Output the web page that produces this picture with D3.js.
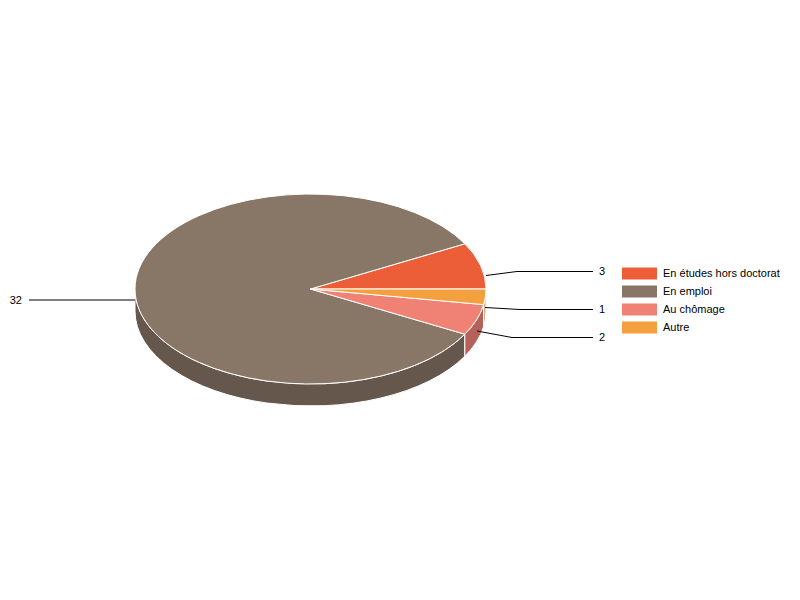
<!DOCTYPE html>
<html>
<head>
<meta charset="utf-8">
<script src="https://cdn.jsdelivr.net/npm/d3@7"></script>
<style>
html, body { margin: 0; padding: 0; background: #fff; }
svg { display: block; }
</style>
</head>
<body>
<div class="main"></div>
<script>
const width = 800;
const height = 600;

const categories = ['En études hors doctorat', 'En emploi', 'Au chômage', 'Autre'];
const values = [3, 32, 2, 1];
const colors = ['#eb5e38', '#887667', '#ef8274', '#f5a03f'];
const sideColors = ['#b14729', '#65574c', '#b46157', '#d2a878'];

const cx = 310.5, cy = 289, rx = 175.5, ry = 95, depth = 22;

const svg = d3.select('.main')
  .append('svg')
  .attr('width', width)
  .attr('height', height)
  .attr('style', 'font: 11px "Liberation Sans", Arial, sans-serif');

// sens anti-horaire depuis l'est
const pie = d3.pie().sort(null).startAngle(Math.PI / 2).endAngle(Math.PI / 2 - 2 * Math.PI);
const slices = pie(values).map((d, i) => ({...d, i}));

const px = a => cx + rx * Math.sin(a);
const py = a => cy - ry * Math.cos(a);

function topPath(d) {
  const large = Math.abs(d.endAngle - d.startAngle) > Math.PI ? 1 : 0;
  return `M${cx},${cy}L${px(d.startAngle)},${py(d.startAngle)}` +
    `A${rx},${ry} 0 ${large} 0 ${px(d.endAngle)},${py(d.endAngle)}Z`;
}

// paroi visible : seulement la moitié basse de l'ellipse
function sidePath(d) {
  const hi = Math.min(d.startAngle, -Math.PI / 2);
  const lo = Math.max(d.endAngle, -3 * Math.PI / 2);
  if (hi <= lo) return null;
  return `M${px(hi)},${py(hi)}A${rx},${ry} 0 0 0 ${px(lo)},${py(lo)}` +
    `L${px(lo)},${py(lo) + depth}A${rx},${ry} 0 0 1 ${px(hi)},${py(hi) + depth}Z`;
}

svg.append('g')
  .selectAll('path')
  .data(slices.filter(d => sidePath(d)))
  .enter()
  .append('path')
  .attr('d', sidePath)
  .style('fill', d => sideColors[d.i])
  .style('stroke', '#fff')
  .style('stroke-width', 1);

svg.append('g')
  .selectAll('path')
  .data(slices)
  .enter()
  .append('path')
  .attr('d', topPath)
  .style('fill', d => colors[d.i])
  .style('stroke', '#fff')
  .style('stroke-width', 1);

// étiquettes et traits de rappel
const labelLines = [
  {i: 0, pts: [[486, 275.5], [517, 271.5], [593, 271.5]], tx: 599, ty: 271, anchor: 'start'},
  {i: 1, pts: [[135, 300], [29, 300]], tx: 22, ty: 300, anchor: 'end'},
  {i: 2, pts: [[477, 331], [512, 337.5], [593, 337.5]], tx: 599, ty: 337, anchor: 'start'},
  {i: 3, pts: [[485, 307.5], [520, 309.5], [593, 309.5]], tx: 599, ty: 309, anchor: 'start'}
];

svg.append('g')
  .selectAll('path')
  .data(labelLines)
  .enter()
  .append('path')
  .attr('d', d => d3.line()(d.pts))
  .style('fill', 'none')
  .style('stroke', '#000')
  .style('stroke-width', 1);

svg.append('g')
  .selectAll('text')
  .data(labelLines)
  .enter()
  .append('text')
  .attr('x', d => d.tx)
  .attr('y', d => d.ty)
  .attr('dy', '0.35em')
  .attr('text-anchor', d => d.anchor)
  .text(d => values[d.i]);

// légende
const y = d3.scaleBand()
  .domain(categories)
  .range([264, 336]);

const legend = svg.append('g')
  .selectAll('g')
  .data(categories)
  .enter()
  .append('g')
  .attr('transform', d => `translate(622, ${y(d)})`);

legend.append('rect')
  .attr('y', 3.5)
  .attr('width', 35)
  .attr('height', 12)
  .style('fill', (d, i) => colors[i]);

legend.append('text')
  .attr('x', 41)
  .attr('y', y.bandwidth() / 2)
  .attr('dy', '0.35em')
  .text(d => d);
</script>
</body>
</html>
